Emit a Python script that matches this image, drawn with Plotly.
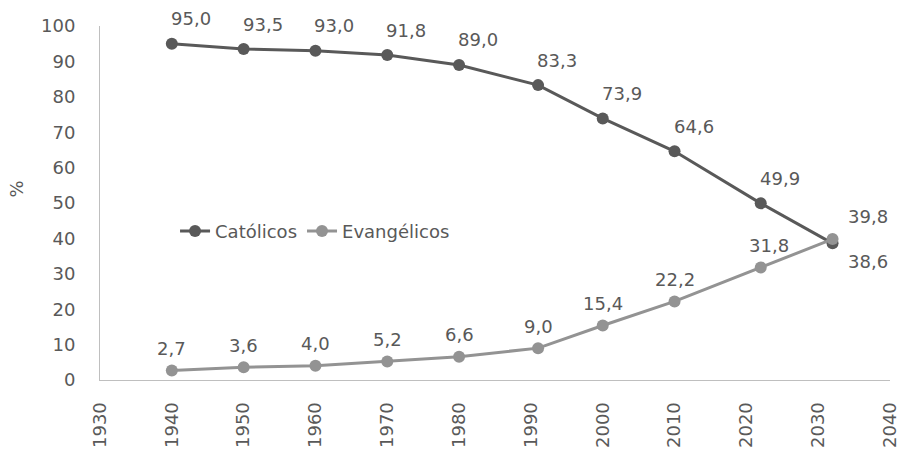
import plotly.graph_objects as go

years = [1940, 1950, 1960, 1970, 1980, 1991, 2000, 2010, 2022, 2032]
catolicos = [95.0, 93.5, 93.0, 91.8, 89.0, 83.3, 73.9, 64.6, 49.9, 38.6]
evangelicos = [2.7, 3.6, 4.0, 5.2, 6.6, 9.0, 15.4, 22.2, 31.8, 39.8]
x_ticks = list(range(1930, 2041, 10))
y_ticks = list(range(0, 101, 10))

FONT = "DejaVu Sans"
TXT = "#595959"
C_CAT = "#595959"
C_EVA = "#939393"
AXIS = "#bfbfbf"

def fmt(v):
    return f"{v:.1f}".replace(".", ",")

fig = go.Figure()
fig.add_trace(go.Scatter(x=years, y=catolicos, name="Católicos", mode="lines+markers",
                         line=dict(color=C_CAT, width=3), marker=dict(color=C_CAT, size=12)))
fig.add_trace(go.Scatter(x=years, y=evangelicos, name="Evangélicos", mode="lines+markers",
                         line=dict(color=C_EVA, width=3), marker=dict(color=C_EVA, size=12)))

anns = []
n = len(years)
for i, (x, y) in enumerate(zip(years, catolicos)):
    if i == n - 1:
        xs, ys = 35, -18
    else:
        xs, ys = 19, 25
    anns.append(dict(x=x, y=y, xref="x", yref="y", text=fmt(y), showarrow=False,
                     xshift=xs, yshift=ys, font=dict(family=FONT, size=18, color=TXT)))
for i, (x, y) in enumerate(zip(years, evangelicos)):
    if i == n - 1:
        xs, ys = 35, 23
    elif i == n - 2:
        xs, ys = 8, 22
    else:
        xs, ys = 0, 22
    anns.append(dict(x=x, y=y, xref="x", yref="y", text=fmt(y), showarrow=False,
                     xshift=xs, yshift=ys, font=dict(family=FONT, size=18, color=TXT)))

anns.append(dict(x=0, y=0.5, xref="paper", yref="paper", text="%", showarrow=False,
                 textangle=-90, xshift=-97, yshift=14, font=dict(family=FONT, size=18, color=TXT)))

fig.update_layout(
    width=908, height=450,
    margin=dict(l=100, r=18, t=26, b=70),
    plot_bgcolor="white", paper_bgcolor="white",
    font=dict(family=FONT, size=18, color=TXT),
    annotations=anns,
    showlegend=True,
    legend=dict(orientation="h", x=0.095, y=0.42, xanchor="left", yanchor="middle",
                bgcolor="rgba(0,0,0,0)", font=dict(family=FONT, size=18, color=TXT),
                tracegroupgap=0),
    xaxis=dict(range=[1930, 2040], tickvals=x_ticks, ticktext=[str(t) for t in x_ticks],
               tickangle=-90, showgrid=False, zeroline=False, showline=True,
               linecolor=AXIS, linewidth=1, ticks="", ticklabelstandoff=14,
               automargin=False, tickfont=dict(family=FONT, size=18, color=TXT)),
    yaxis=dict(range=[0, 100], tickvals=y_ticks, showgrid=False, zeroline=False,
               showline=True, linecolor=AXIS, linewidth=1, ticks="",
               automargin=False, ticklabelstandoff=20,
               tickfont=dict(family=FONT, size=18, color=TXT)),
)
fig.write_html("out.html")
